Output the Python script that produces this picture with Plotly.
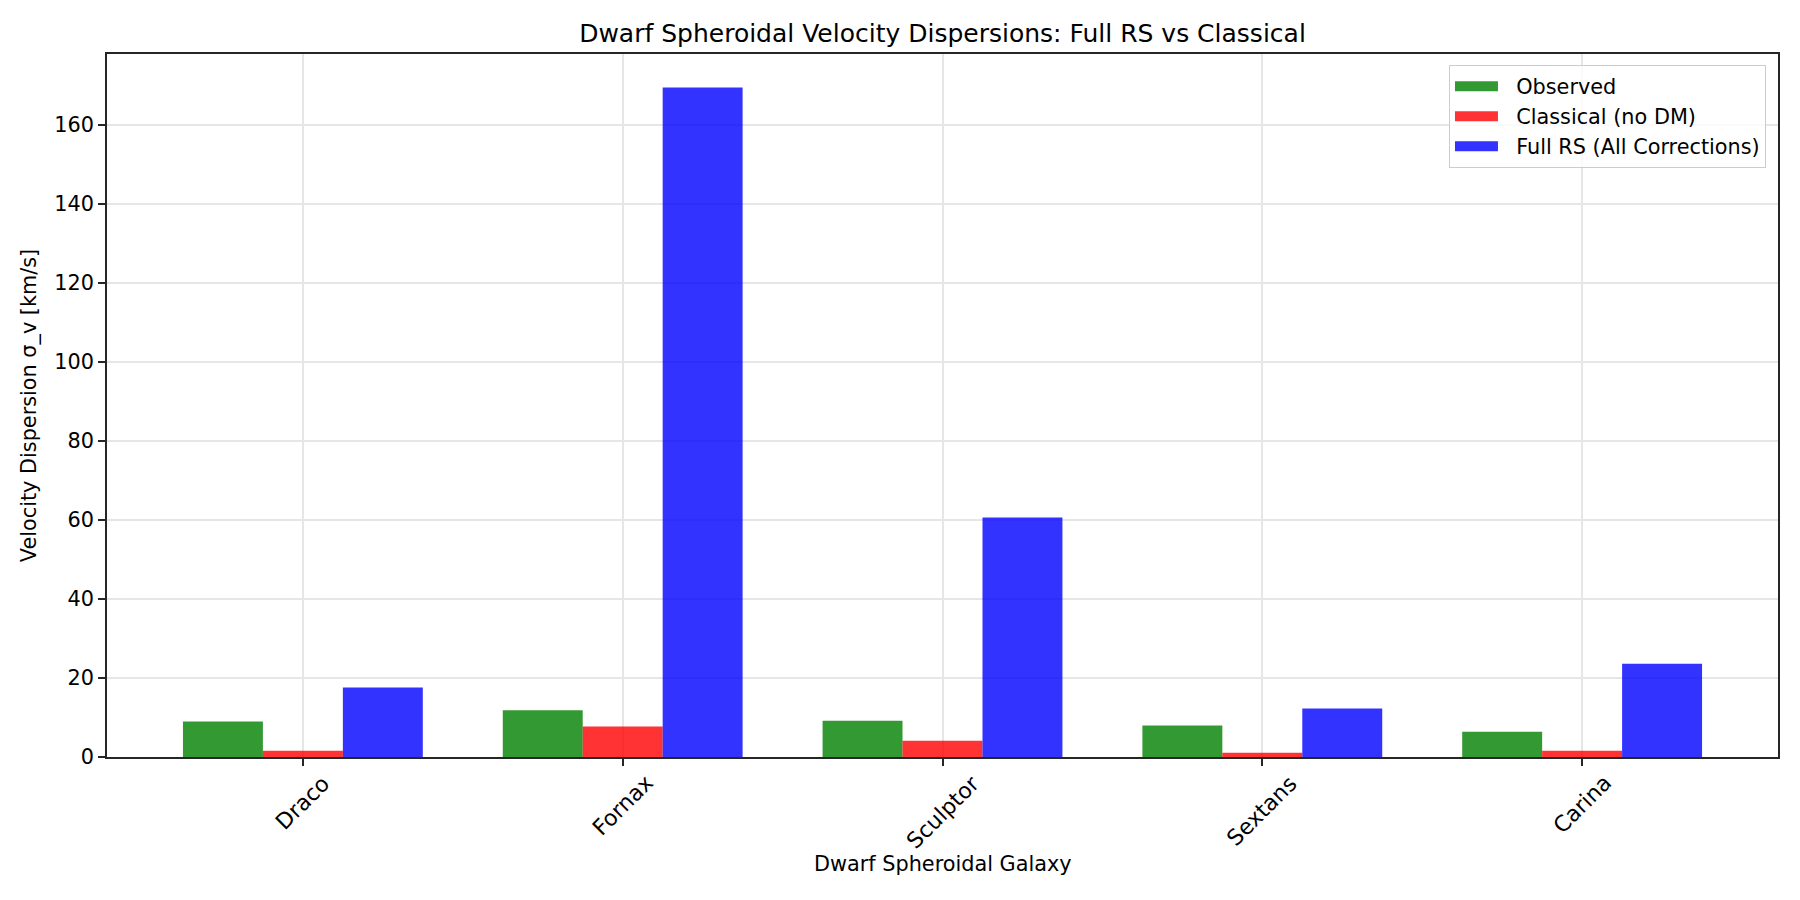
"""Dwarf spheroidal velocity dispersions: observed vs classical vs full RS."""

import plotly.graph_objects as go

GALAXIES = ["Draco", "Fornax", "Sculptor", "Sextans", "Carina"]
OBSERVED = [9.0, 11.8, 9.2, 7.95, 6.4]
CLASSICAL = [1.6, 7.7, 4.1, 1.05, 1.55]
FULL_RS = [17.6, 169.4, 60.6, 12.3, 23.6]
Y_TICKS = [0, 20, 40, 60, 80, 100, 120, 140, 160]

FONT = "DejaVu Sans"
TICK_SIZE = 20.8
XLABEL_SIZE = 22
TITLE_SIZE = 25
GRID_COLOR = "#e6e6e6"
AXIS_COLOR = "#262626"
# the page body has an 8px margin, so the figure is drawn 8px smaller
FIG_W = 1792
FIG_H = 892
LEGEND_GAP = "\u00a0\u00a0"

fig = go.Figure()

series = [
    ("Observed", OBSERVED, "rgba(0,128,0,0.8)"),
    ("Classical (no DM)", CLASSICAL, "rgba(255,0,0,0.8)"),
    ("Full RS (All Corrections)", FULL_RS, "rgba(0,0,255,0.8)"),
]
for name, values, color in series:
    fig.add_trace(
        go.Bar(
            x=GALAXIES,
            y=values,
            name=name,
            marker=dict(color=color, line=dict(width=0)),
            showlegend=False,
        )
    )

# legend-only entries with wide swatches like matplotlib's patches
for name, _values, color in series:
    fig.add_trace(
        go.Scatter(
            x=[None],
            y=[None],
            mode="lines",
            name=LEGEND_GAP + name,
            line=dict(color=color, width=14),
            hoverinfo="skip",
        )
    )

# rotated tick labels centred under each tick, like matplotlib rotation=45
for galaxy in GALAXIES:
    fig.add_annotation(
        x=galaxy,
        y=0,
        xref="x",
        yref="paper",
        text=galaxy,
        textangle=-45,
        showarrow=False,
        xanchor="center",
        yanchor="top",
        yshift=-11,
        font=dict(family=FONT, size=XLABEL_SIZE, color="black"),
    )

fig.add_annotation(
    x=0.5,
    y=-0.152,
    xref="paper",
    yref="paper",
    text="Dwarf Spheroidal Galaxy",
    showarrow=False,
    xanchor="center",
    yanchor="middle",
    font=dict(family=FONT, size=TICK_SIZE, color="black"),
)

y_max = max(FULL_RS) * 1.05
n = len(GALAXIES)

fig.update_xaxes(
    type="category",
    range=[-0.6125, n - 1 + 0.6125],
    showticklabels=False,
    ticks="outside",
    ticklen=7,
    tickwidth=1.6,
    tickcolor=AXIS_COLOR,
    showgrid=True,
    gridcolor=GRID_COLOR,
    gridwidth=1.6,
    showline=True,
    linecolor=AXIS_COLOR,
    linewidth=1.6,
    mirror=True,
    zeroline=False,
)
fig.update_yaxes(
    range=[0, y_max],
    tickvals=Y_TICKS,
    ticks="outside",
    ticklen=7,
    tickwidth=1.6,
    tickcolor=AXIS_COLOR,
    tickfont=dict(family=FONT, size=TICK_SIZE, color="black"),
    showgrid=True,
    gridcolor=GRID_COLOR,
    gridwidth=1.6,
    showline=True,
    linecolor=AXIS_COLOR,
    linewidth=1.6,
    mirror=True,
    zeroline=False,
    title=dict(
        text="Velocity Dispersion σ_v [km/s]",
        font=dict(family=FONT, size=TICK_SIZE, color="black"),
        standoff=12,
    ),
)

fig.update_layout(
    width=FIG_W,
    height=FIG_H,
    margin=dict(l=99, r=22, t=46, b=143),
    paper_bgcolor="white",
    plot_bgcolor="white",
    barmode="group",
    bargap=0.25,
    bargroupgap=0,
    font=dict(family=FONT, size=TICK_SIZE, color="black"),
    title=dict(
        text="Dwarf Spheroidal Velocity Dispersions: Full RS vs Classical",
        xref="paper",
        x=0.5,
        xanchor="center",
        y=1 - 25 / FIG_H,
        yanchor="middle",
        font=dict(family=FONT, size=TITLE_SIZE, color="black"),
    ),
    legend=dict(
        x=0.9928,
        y=0.984,
        xanchor="right",
        yanchor="top",
        bgcolor="rgba(255,255,255,0.8)",
        bordercolor="#cccccc",
        borderwidth=1,
        itemwidth=43,
        font=dict(family=FONT, size=TICK_SIZE, color="black"),
    ),
    showlegend=True,
)

fig.write_html("out.html")
